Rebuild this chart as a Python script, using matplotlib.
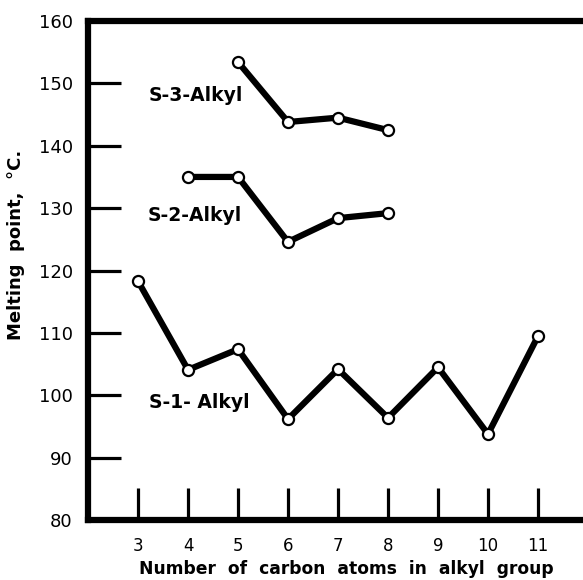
import matplotlib.pyplot as plt

# carbon atoms in alkyl group
x_s1 = [3, 4, 5, 6, 7, 8, 9, 10, 11]
x_s2 = [4, 5, 6, 7, 8]
x_s3 = [5, 6, 7, 8]

# melting points, deg C
mp_s1 = [118.3, 104.1, 107.4, 96.2, 104.2, 96.4, 104.5, 93.8, 109.5]
mp_s2 = [135.0, 135.0, 124.6, 128.4, 129.2]
mp_s3 = [153.4, 143.8, 144.5, 142.5]

y_ticks = [80, 90, 100, 110, 120, 130, 140, 150, 160]

plt.rcParams['font.family'] = ['DejaVu Sans']

fig = plt.figure(figsize=(5.83, 5.80), dpi=100)
ax = fig.add_axes([0.151, 0.103, 0.849, 0.861])

style = dict(color='black', lw=4.5, marker='o', ms=8, mfc='white',
             mec='black', mew=1.6, solid_joinstyle='round')
ax.plot(x_s1, mp_s1, **style)
ax.plot(x_s2, mp_s2, **style)
ax.plot(x_s3, mp_s3, **style)

ax.text(3.22, 98.8, 'S-1- Alkyl', fontsize=13.5, fontweight='bold', va='center')
ax.text(3.2, 128.8, 'S-2-Alkyl', fontsize=13.5, fontweight='bold', va='center')
ax.text(3.22, 148.1, 'S-3-Alkyl', fontsize=13.5, fontweight='bold', va='center')

ax.set_xlim(2.0, 11.9)
ax.set_ylim(80, 160)
ax.set_xticks(x_s1)
ax.set_yticks(y_ticks)
ax.tick_params(axis='y', direction='in', length=24, width=2.3, pad=11, labelsize=13)
ax.tick_params(axis='x', direction='in', length=23, width=2.3, pad=12, labelsize=12)

for s in ['left', 'top', 'bottom']:
    ax.spines[s].set_linewidth(4.5)
ax.spines['right'].set_visible(False)

ax.set_xlabel('Number  of  carbon  atoms  in  alkyl  group', fontsize=12.3,
              fontweight='bold')
ax.xaxis.set_label_coords(0.521, -0.079)
ax.set_ylabel('Melting  point,  °C.', fontsize=13, fontweight='bold')
ax.yaxis.set_label_coords(-0.127, 0.551)

fig.savefig('out.png', dpi=100)
